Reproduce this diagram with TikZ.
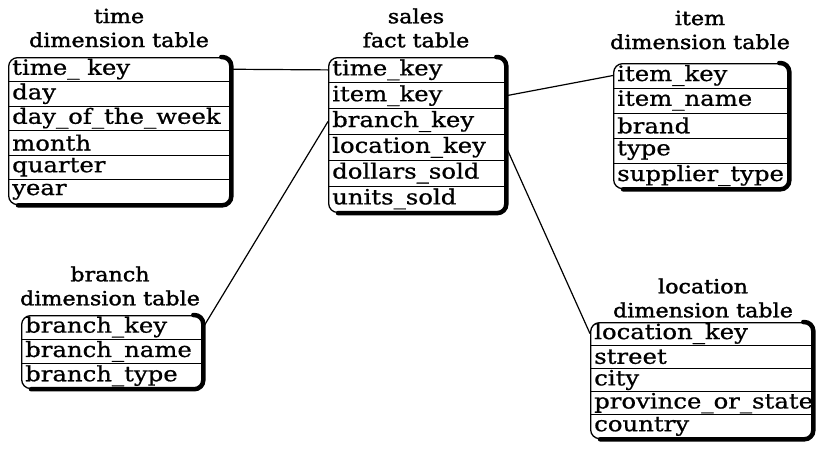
\documentclass[tikz,border=0pt]{standalone}
\usepackage{fontspec}
\setmainfont[FakeStretch=1.16,FakeBold=0.8]{DejaVu Serif}
\newfontfamily\ttlfont[FakeStretch=1.14,FakeBold=1.6]{DejaVu Serif}
\tikzset{
  tablebox/.style={draw, line width=1.3pt, rounded corners=9pt, anchor=north west, inner sep=0pt},
  field/.style={anchor=west, inner sep=0pt, font=\fontsize{21}{21}\selectfont},
  ttl/.style={align=center, font=\ttlfont\fontsize{19.5}{24}\selectfont, inner sep=0pt},
  sepline/.style={line width=0.7pt},
  shadeedge/.style={line width=4.5pt, rounded corners=9pt, line cap=round},
  link/.style={line width=1.2pt}
}
% name, x, y, width, row height, rows, fields
\newcommand\mktable[7]{%
  \node[tablebox, minimum width=#4pt, minimum height={#5*#6}] (#1) at (#2,#3) {};
  \pgfmathtruncatemacro\nsep{#6-1}%
  \foreach \k in {1,...,\nsep}{%
    \draw[sepline] ([yshift={-\k*#5*1pt}]#1.north west) -- ([yshift={-\k*#5*1pt}]#1.north east);
  }%
  \draw[shadeedge] ([xshift=-10pt]#1.north east) -- (#1.north east) -- (#1.south east) -- ([xshift=10pt]#1.south west);
  \foreach \f [count=\i] in {#7}{%
    \node[field] (#1-\i) at ([xshift=4pt, yshift={-(\i-0.5)*#5*1pt}]#1.north west) {\f};
  }%
}
\begin{document}
\begin{tikzpicture}[x=1pt,y=-1pt]
  \useasboundingbox (0,0) rectangle (816,450);
  \fill[white] (0,0) rectangle (816,450);

  \node[ttl] (time-t) at (119,28) {time\\dimension table};
  \node[ttl] (sales-t) at (416,28) {sales\\fact table};
  \node[ttl] (item-t) at (700,30) {item\\dimension table};
  \node[ttl] (branch-t) at (110,286) {branch\\dimension table};
  \node[ttl] (loc-t) at (703,298) {location\\dimension table};

  \mktable{time}{8}{57}{222}{24.5}{6}{time\_ key,day,day\_of\_the\_week,month,quarter,year}
  \mktable{sales}{328}{57}{177}{25.8}{6}{time\_key,item\_key,branch\_key,location\_key,dollars\_sold,units\_sold}
  \mktable{item}{613}{63}{175}{25}{5}{item\_key,item\_name,brand,type,supplier\_type}
  \mktable{branch}{21}{315}{181}{24.3}{3}{branch\_key,branch\_name,branch\_type}
  \mktable{loc}{590}{322}{222}{23.2}{5}{location\_key,street,city,province\_or\_state,country}

  \draw[link] (time-1 -| time.east) -- (sales-1 -| sales.west);
  \draw[link] (sales-2 -| sales.east) -- (item-1 -| item.west);
  \draw[link] (sales-3 -| sales.west) -- (branch-1 -| branch.east);
  \draw[link] (sales-4 -| sales.east) -- (loc-1 -| loc.west);
\end{tikzpicture}
\end{document}
